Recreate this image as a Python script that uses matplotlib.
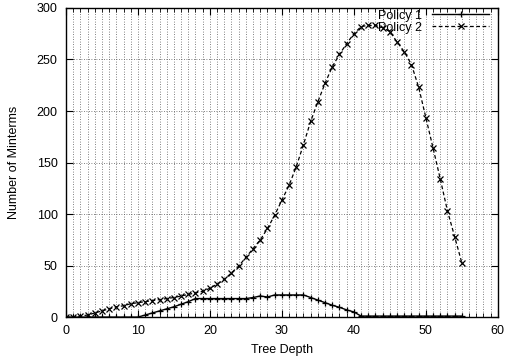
import matplotlib
matplotlib.use('Agg')
import matplotlib.pyplot as plt
from matplotlib.ticker import MultipleLocator

plt.rcParams['font.family'] = ['Liberation Sans', 'DejaVu Sans']

# tree depth 0..55
depth = list(range(56))

policy1 = [0, 0, 0, 0, 0, 0, 0, 0, 0, 0,
           0, 2, 4, 6, 8, 10, 12.5, 15, 18, 18,
           18, 18, 18, 18, 18, 18, 19, 20.5, 19.5, 21.5,
           21.5, 21.5, 21.5, 21.5, 19, 16.5, 14, 11.5, 9.5, 7,
           5, 1, 1, 1, 1, 1, 1, 1, 1, 1,
           1, 1, 1, 1, 1, 1]

policy2 = [0, 0, 1, 2, 4, 6, 8, 10, 11, 13,
           14, 15, 16, 17, 18, 19, 20.5, 22, 23.5, 25,
           28, 32, 36.5, 43, 49.5, 58, 66.5, 75, 86, 99,
           113.5, 128, 146, 167.5, 190, 209, 227, 243, 255, 265.5,
           275, 282, 283, 283, 281, 277, 267, 257.5, 245, 223,
           193.5, 164, 134, 103, 78, 52.5]

fig = plt.figure(figsize=(5.07, 3.62), dpi=100)
ax = fig.add_axes([0.130, 0.124, 0.852, 0.854])

ax.plot(depth, policy1, color='black', linestyle='-', linewidth=1.0,
        marker='+', markersize=5, markeredgewidth=0.9, label='Policy 1')
ax.plot(depth, policy2, color='black', linestyle=(0, (3, 2)), linewidth=0.9,
        marker='x', markersize=4.5, markeredgewidth=0.9, label='Policy 2')

ax.set_xlim(0, 60)
ax.set_ylim(0, 300)
ax.xaxis.set_major_locator(MultipleLocator(10))
ax.xaxis.set_minor_locator(MultipleLocator(1))
ax.yaxis.set_major_locator(MultipleLocator(50))

ax.grid(which='major', axis='y', linestyle=(0, (1, 2)), color='0.35', linewidth=0.6)
ax.grid(which='both', axis='x', linestyle=(0, (1, 2)), color='0.35', linewidth=0.6)
ax.set_axisbelow(True)

ax.tick_params(which='both', direction='in', top=True, right=True, labelsize=9)
ax.tick_params(which='major', length=5, pad=6)
ax.tick_params(which='minor', length=3)
for s in ax.spines.values():
    s.set_linewidth(1.0)

ax.set_xlabel('Tree Depth', fontsize=9, labelpad=5)
ax.set_ylabel('Number of Minterms', fontsize=9, labelpad=12)

ax.legend(loc='upper right', bbox_to_anchor=(0.982, 0.997), frameon=False,
          markerfirst=False, fontsize=9, handlelength=4.6, borderaxespad=0.0,
          borderpad=0.05, labelspacing=0.0, handletextpad=0.8)

fig.savefig('out.png', dpi=100)
